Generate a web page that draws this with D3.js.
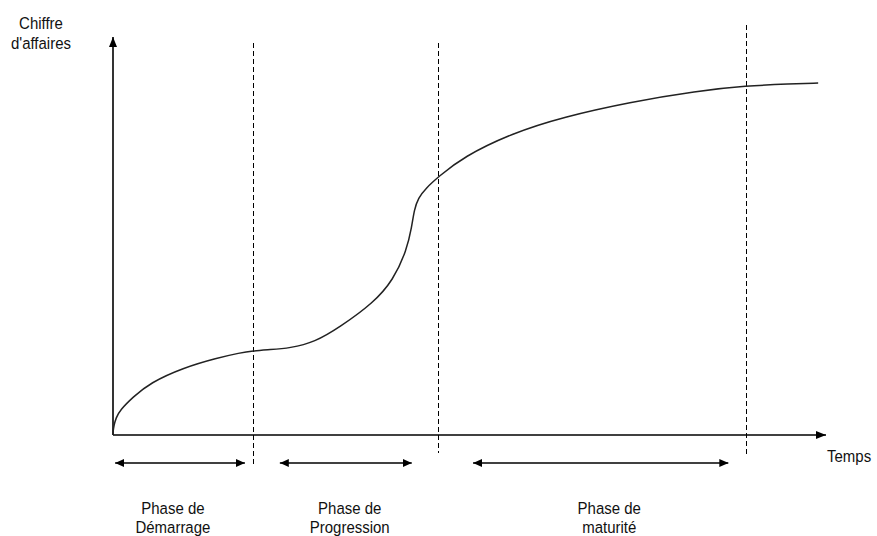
<!DOCTYPE html>
<html><head><meta charset="utf-8">
<script src="https://cdn.jsdelivr.net/npm/d3@7"></script>
<style>
body{margin:0;background:#fff;}
text{font-family:"Liberation Sans",Arial,sans-serif;font-size:15px;fill:#111;}
</style></head>
<body><svg id="c" width="877" height="536"></svg>
<script>
// Data (time units 0-100, revenue units 0-100)
const curveTime    = [0, 0, 0.14, 0.42, 0.98, 2.8, 5.2, 9.8, 14.6, 17.8, 19.6, 22.0, 24.8, 28.3, 31.8, 36.5, 39.3, 41.2, 41.9, 42.25, 42.8, 43.9, 45.6, 49.1, 56.1, 63.1, 72.5, 81.9, 88.8, 95.0, 98.9];
const curveRevenue = [0, 0.8, 2.5, 4.3, 6.3, 9.6, 13.2, 17.0, 19.5, 20.8, 21.3, 21.6, 22.0, 23.5, 27.3, 33.4, 39.2, 46.8, 52.7, 57.0, 60.0, 62.5, 65.3, 70.4, 76.5, 80.5, 84.3, 87.1, 88.4, 88.9, 89.1];
const phaseBounds  = [19.6, 45.6, 88.8];
const phaseNames   = [["Phase de","Démarrage"],["Phase de","Progression"],["Phase de","maturité"]];
const phaseStart   = [0.3, 23.4, 50.5];
const phaseEnd     = [18.5, 41.9, 86.3];
const phaseLabelAt = [8.4, 33.2, 69.6];
const yAxisLabel   = ["Chiffre","d'affaires"];
const xAxisLabel   = "Temps";

// Layout
const x = d3.scaleLinear().domain([0,100]).range([113,826]);
const y = d3.scaleLinear().domain([0,100]).range([435,40]);
const dashTop = [43, 43, 25], dashBottom = [467, 453, 455];
const arrowY = 463;

const svg = d3.select("#c");
const defs = svg.append("defs");
function marker(id, w, h, orient){
  defs.append("marker").attr("id",id).attr("viewBox",`0 0 ${w} ${h}`)
    .attr("refX",w).attr("refY",h/2).attr("markerWidth",w).attr("markerHeight",h)
    .attr("markerUnits","userSpaceOnUse").attr("orient",orient)
    .append("path").attr("d",`M0,0L${w},${h/2}L0,${h}Z`).attr("fill","#000");
}
marker("axHead", 10, 8, "auto");
marker("phHead", 9, 8, "auto-start-reverse");

// Axes
svg.append("line").attr("x1",x(0)).attr("y1",y(0)).attr("x2",x(0)).attr("y2",37)
  .attr("stroke","#000").attr("stroke-width",1.6).attr("marker-end","url(#axHead)");
svg.append("line").attr("x1",x(0)).attr("y1",y(0)).attr("x2",x(100)).attr("y2",y(0))
  .attr("stroke","#000").attr("stroke-width",1.6).attr("marker-end","url(#axHead)");

// Phase boundaries
svg.selectAll("line.bound").data(phaseBounds).join("line").attr("class","bound")
  .attr("x1",d=>Math.round(x(d))+0.5).attr("x2",d=>Math.round(x(d))+0.5)
  .attr("y1",(d,i)=>dashTop[i]).attr("y2",(d,i)=>dashBottom[i])
  .attr("stroke","#000").attr("stroke-width",1).attr("stroke-dasharray","5,3");

// Curve
const pts = curveTime.map((t,i)=>[t, curveRevenue[i]]);
svg.append("path").datum(pts)
  .attr("d", d3.line().x(d=>x(d[0])).y(d=>y(d[1])).curve(d3.curveBasis))
  .attr("fill","none").attr("stroke","#222").attr("stroke-width",1.5);

// Phase arrows
svg.selectAll("line.ph").data(phaseStart).join("line").attr("class","ph")
  .attr("x1",d=>x(d)).attr("x2",(d,i)=>x(phaseEnd[i]))
  .attr("y1",arrowY).attr("y2",arrowY)
  .attr("stroke","#000").attr("stroke-width",1.6)
  .attr("marker-start","url(#phHead)").attr("marker-end","url(#phHead)");

// Phase labels (slightly tall glyphs, as in the reference)
const lbl = svg.selectAll("text.ph").data(phaseNames).join("text").attr("class","ph")
  .attr("text-anchor","middle")
  .attr("transform",(d,i)=>`translate(${x(phaseLabelAt[i])},0) scale(1,1.1)`);
lbl.selectAll("tspan").data(d=>d).join("tspan")
  .attr("x",0).attr("y",(d,j)=>(514+j*19)/1.1).text(d=>d);

// Axis labels
svg.append("text").attr("text-anchor","middle").attr("transform","scale(1,1.1)")
  .selectAll("tspan").data(yAxisLabel).join("tspan")
  .attr("x",41).attr("y",(d,j)=>(29+j*20)/1.1).text(d=>d);
svg.append("text").attr("transform","scale(1,1.1)").attr("x",827).attr("y",462/1.1).text(xAxisLabel);
</script></body></html>
